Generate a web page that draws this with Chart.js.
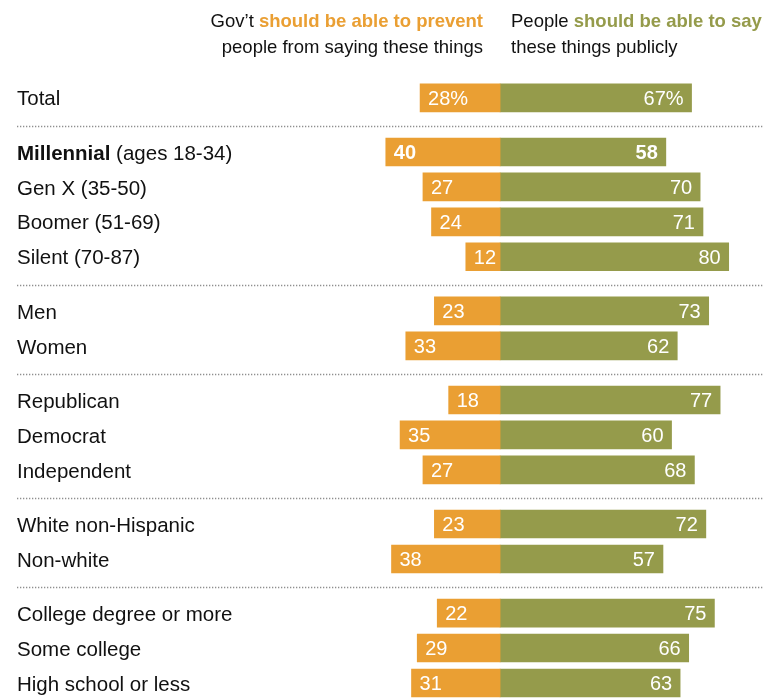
<!DOCTYPE html>
<html lang="en">
<head>
<meta charset="UTF-8">
<title>Free speech by group</title>
<script src="https://cdn.jsdelivr.net/npm/chart.js"></script>
<style>
  body { margin: 0; background: #fff; }
  #wrap { position: relative; width: 763px; height: 698px; }
</style>
</head>
<body>
<div id="wrap"><canvas id="speechChart"></canvas></div>
<script>
// rows, in order, and which block each row belongs to
const categories = ['Total', 'Millennial (ages 18-34)', 'Gen X (35-50)', 'Boomer (51-69)', 'Silent (70-87)',
  'Men', 'Women', 'Republican', 'Democrat', 'Independent', 'White non-Hispanic', 'Non-white',
  'College degree or more', 'Some college', 'High school or less'];
const groupIds = [0, 1, 1, 1, 1, 2, 2, 3, 3, 3, 4, 4, 5, 5, 5];
const govPrevent = [28, 40, 27, 24, 12, 23, 33, 18, 35, 27, 23, 38, 22, 29, 31];
const peopleSay = [67, 58, 70, 71, 80, 73, 62, 77, 60, 68, 72, 57, 75, 66, 63];

const ORANGE = '#EA9F33';
const GREEN = '#959B4B';
const FONT = '"Liberation Sans", Arial, sans-serif';
const GROUP_GAP = 0.55;

// row position on the y scale: one unit per row plus a gap between blocks
const rowPos = categories.map((c, i) => i + groupIds[i] * GROUP_GAP);

// labels, separators, headers and bar values
const decorPlugin = {
  id: 'decor',
  afterDatasetsDraw(chart) {
    const ctx = chart.ctx;
    const y = chart.scales.y;
    ctx.save();

    // headers
    ctx.textBaseline = 'middle';
    ctx.font = '18.5px ' + FONT;
    ctx.fillStyle = '#111';
    ctx.textAlign = 'right';
    ctx.fillText('people from saying these things', 483, 48);
    let boldPart = 'should be able to prevent';
    ctx.font = 'bold 18.5px ' + FONT;
    let bw = ctx.measureText(boldPart).width;
    ctx.fillStyle = ORANGE;
    ctx.fillText(boldPart, 483, 22);
    ctx.font = '18.5px ' + FONT;
    ctx.fillStyle = '#111';
    ctx.fillText("Gov\u2019t ", 483 - bw, 22);

    ctx.textAlign = 'left';
    ctx.fillText('these things publicly', 511, 48);
    ctx.fillText('People ', 511, 22);
    let pw = ctx.measureText('People ').width;
    ctx.font = 'bold 18.5px ' + FONT;
    ctx.fillStyle = GREEN;
    ctx.fillText('should be able to say', 511 + pw, 22);

    // dotted separators between blocks
    ctx.strokeStyle = '#8f8f8f';
    ctx.lineWidth = 1.3;
    ctx.setLineDash([1.3, 1.7]);
    for (let i = 1; i < categories.length; i++) {
      if (groupIds[i] !== groupIds[i - 1]) {
        const sy = Math.round((y.getPixelForValue(rowPos[i]) + y.getPixelForValue(rowPos[i - 1])) / 2) + 1.5;
        ctx.beginPath();
        ctx.moveTo(17, sy);
        ctx.lineTo(763, sy);
        ctx.stroke();
      }
    }
    ctx.setLineDash([]);

    // row labels
    ctx.fillStyle = '#111';
    ctx.textAlign = 'left';
    categories.forEach((c, i) => {
      const py = y.getPixelForValue(rowPos[i]) + 2;
      if (c.startsWith('Millennial')) {
        ctx.font = 'bold 20.5px ' + FONT;
        ctx.fillText('Millennial', 17, py);
        const w = ctx.measureText('Millennial ').width;
        ctx.font = '20.5px ' + FONT;
        ctx.fillText(c.slice('Millennial '.length), 17 + w, py);
      } else {
        ctx.font = '20.5px ' + FONT;
        ctx.fillText(c, 17, py);
      }
    });

    // values inside bars
    ctx.fillStyle = '#fff';
    const left = chart.getDatasetMeta(0).data;
    const right = chart.getDatasetMeta(1).data;
    categories.forEach((c, i) => {
      const bold = c.startsWith('Millennial') ? 'bold ' : '';
      ctx.font = bold + '20px ' + FONT;
      const sfx = i === 0 ? '%' : '';
      const lb = left[i];
      ctx.textAlign = 'left';
      ctx.fillText(govPrevent[i] + sfx, lb.x + 8, lb.y + 1.5);
      const rb = right[i];
      ctx.textAlign = 'right';
      ctx.fillText(peopleSay[i] + sfx, rb.x - 8, rb.y + 1.5);
    });
    ctx.restore();
  }
};

new Chart(document.getElementById('speechChart'), {
  type: 'bar',
  data: {
    datasets: [{
      label: "Gov't should be able to prevent people from saying these things",
      data: govPrevent.map((v, i) => ({ x: -v, y: rowPos[i] })),
      backgroundColor: ORANGE,
      barThickness: 28
    }, {
      label: 'People should be able to say these things publicly',
      data: peopleSay.map((v, i) => ({ x: v, y: rowPos[i] })),
      backgroundColor: GREEN,
      barThickness: 28
    }]
  },
  options: {
    indexAxis: 'y',
    responsive: true,
    maintainAspectRatio: false,
    animation: false,
    layout: { padding: 0 },
    scales: {
      x: { type: 'linear', stacked: true, min: -175, max: 92, display: false, offset: false },
      y: { type: 'linear', stacked: true, reverse: true, min: -2.8, max: 17.18, display: false, offset: false }
    },
    plugins: {
      legend: { display: false },
      tooltip: { enabled: false }
    }
  },
  plugins: [decorPlugin]
});
</script>
</body>
</html>
